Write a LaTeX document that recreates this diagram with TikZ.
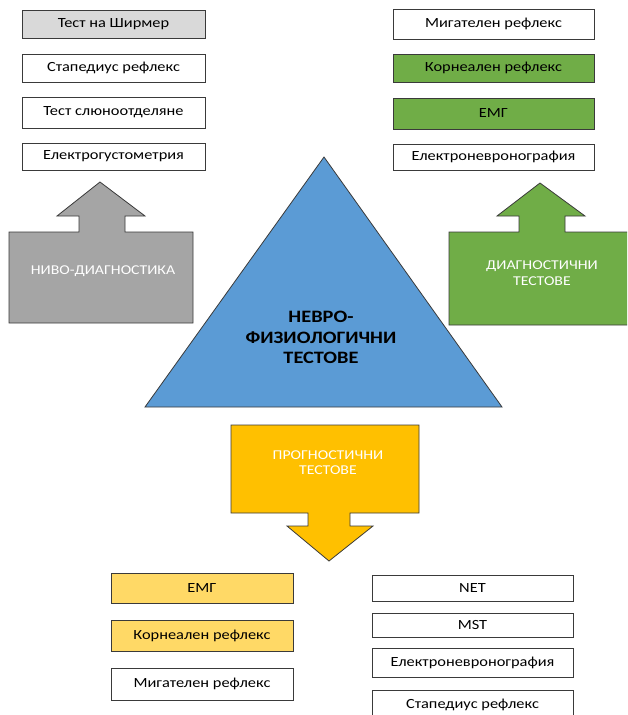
\documentclass[tikz,border=0pt]{standalone}
\usepackage{fontspec}
\setmainfont{Carlito}[FakeStretch=1.17]
\definecolor{edge}{HTML}{3A3A3A}
\definecolor{lgray}{HTML}{D9D9D9}
\definecolor{dgray}{HTML}{A5A5A5}
\definecolor{mgreen}{HTML}{70AD47}
\definecolor{mblue}{HTML}{5B9BD5}
\definecolor{myellow}{HTML}{FFC000}
\definecolor{lyellow}{HTML}{FFD966}
\begin{document}
\begin{tikzpicture}[x=1pt,y=-1pt,
  box/.style={draw=edge, line width=0.8pt, fill=white, inner sep=0pt, font=\fontsize{14}{16}\selectfont, text=black},
  outl/.style={draw=edge, line width=0.8pt},
  wtext/.style={text=white, font=\fontsize{13.5}{15.5}\selectfont, align=center},
]
\useasboundingbox (0,0) rectangle (627,715);
\begin{scope}
\clip (0,0) rectangle (627,715);
% left column
\node[box, fill=lgray, minimum width=183pt, minimum height=28pt] (l1) at (113.5,24) {Тест на Ширмер};
\node[box, minimum width=183pt, minimum height=28pt] (l2) at (113.5,68) {Стапедиус рефлекс};
\node[box, minimum width=183pt, minimum height=31pt] (l3) at (113.5,112.5) {Тест слюноотделяне};
\node[box, minimum width=183pt, minimum height=27pt] (l4) at (113.5,156.5) {Електрогустометрия};
% right column
\node[box, minimum width=201pt, minimum height=30pt] (r1) at (493.5,24) {Мигателен рефлекс};
\node[box, fill=mgreen, minimum width=201pt, minimum height=28pt] (r2) at (493.5,68) {Корнеален рефлекс};
\node[box, fill=mgreen, minimum width=201pt, minimum height=31pt] (r3) at (493.5,113.5) {ЕМГ};
\node[box, minimum width=201pt, minimum height=26pt] (r4) at (493.5,157) {Електроневронография};
% gray arrow
\draw[outl, fill=dgray] (9,232) -- (79,232) -- (79,216) -- (57,216) -- (100,182) -- (145,216) -- (125,216) -- (125,232) -- (193,232) -- (193,323) -- (9,323) -- cycle;
\node[wtext] (ga) at (103,271) {НИВО-ДИАГНОСТИКА};
% green arrow
\draw[outl, fill=mgreen] (449,232) -- (519,232) -- (519,216) -- (497,216) -- (540,183) -- (585,216) -- (565,216) -- (565,232) -- (630,232) -- (630,325) -- (449,325) -- cycle;
\node[wtext] (gr) at (542,273) {ДИАГНОСТИЧНИ\\ТЕСТОВЕ};
% triangle
\draw[outl, fill=mblue] (324,157) -- (502,407) -- (145,407) -- cycle;
\node[font=\bfseries\fontsize{17.4}{20.5}\selectfont, align=center, text=black] (tri) at (321,337.5) {НЕВРО-\\ФИЗИОЛОГИЧНИ\\ТЕСТОВЕ};
% yellow arrow
\draw[outl, fill=myellow] (231,425) -- (419,425) -- (419,513) -- (350,513) -- (350,526) -- (373,526) -- (329,561) -- (287,526) -- (308,526) -- (308,513) -- (231,513) -- cycle;
\node[wtext] (ya) at (328,462.5) {ПРОГНОСТИЧНИ\\ТЕСТОВЕ};
% bottom left
\node[box, fill=lyellow, minimum width=182pt, minimum height=30pt] (b1) at (202,588) {ЕМГ};
\node[box, fill=lyellow, minimum width=182pt, minimum height=31pt] (b2) at (202,635.5) {Корнеален рефлекс};
\node[box, minimum width=182pt, minimum height=32pt] (b3) at (202,684) {Мигателен рефлекс};
% bottom right
\node[box, minimum width=201pt, minimum height=26pt] (c1) at (472.5,588) {NET};
\node[box, minimum width=201pt, minimum height=24pt] (c2) at (472.5,625) {MST};
\node[box, minimum width=201pt, minimum height=29pt] (c3) at (472.5,662.5) {Електроневронография};
\node[box, minimum width=201pt, minimum height=30pt] (c4) at (472.5,705) {Стапедиус рефлекс};
\end{scope}
\end{tikzpicture}
\end{document}
